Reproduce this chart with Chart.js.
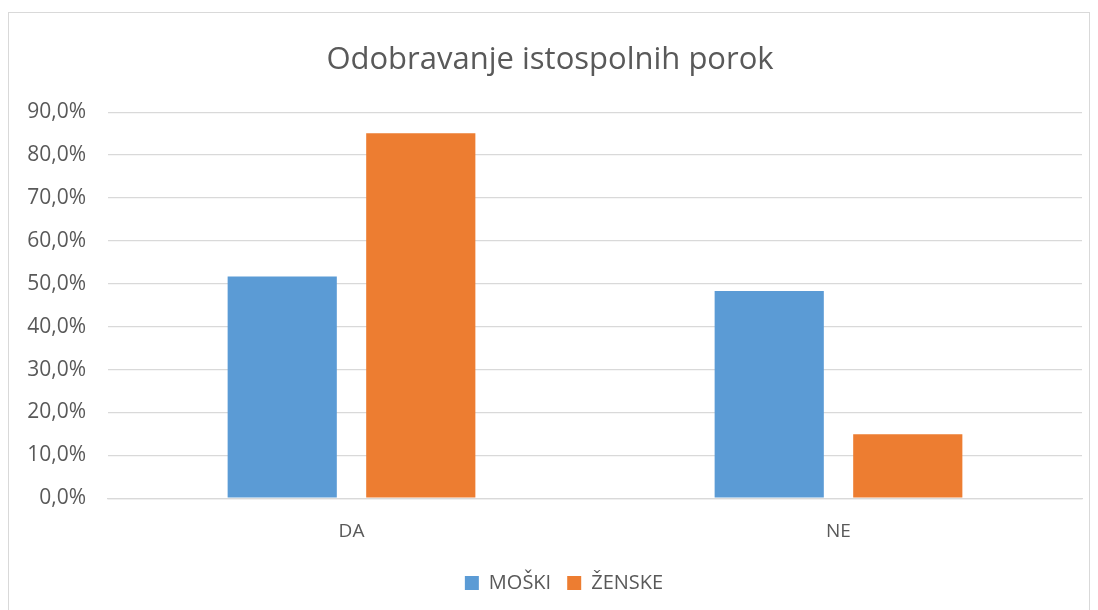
<!DOCTYPE html>
<html>
<head>
<meta charset="utf-8">
<script src="https://cdn.jsdelivr.net/npm/chart.js@4.4.0/dist/chart.umd.min.js"></script>
<style>
  html, body { margin: 0; padding: 0; background: #fff; }
  #wrap { position: absolute; left: 8px; top: 12px; width: 1082px; height: 610px; border: 1px solid #d9d9d9; box-sizing: border-box; }
  #box { position: absolute; left: 0; top: 0; width: 1098px; height: 610px; }
</style>
</head>
<body>
<div id="wrap"></div>
<div id="box"><canvas id="chart"></canvas></div>
<script>
const categories = ['DA', 'NE'];
const moskiValues = [51.7, 48.3];
const zenskeValues = [85.1, 14.9];

Chart.defaults.font.family = '"Open Sans", sans-serif';
Chart.defaults.color = '#595959';

// legenda je v originalu malo desno od sredine
const legendShift = {
    id: 'legendShift',
    afterLayout(chart) {
        if (chart.legend) {
            chart.legend.left += 14;
            chart.legend.right += 14;
        }
    }
};

const ctx = document.getElementById('chart').getContext('2d');
new Chart(ctx, {
    type: 'bar',
    data: {
        labels: categories,
        datasets: [{
            label: 'MOŠKI',
            data: moskiValues,
            backgroundColor: '#5B9BD5',
            categoryPercentage: 0.569,
            barPercentage: 0.788
        }, {
            label: 'ŽENSKE',
            data: zenskeValues,
            backgroundColor: '#ED7D31',
            categoryPercentage: 0.569,
            barPercentage: 0.788
        }]
    },
    options: {
        responsive: true,
        maintainAspectRatio: false,
        animation: false,
        layout: {
            padding: { left: 18, right: 16, top: 20, bottom: 7 }
        },
        plugins: {
            title: {
                display: true,
                text: 'Odobravanje istospolnih porok',
                color: '#595959',
                font: { size: 31, weight: 'normal' },
                padding: { top: 22, bottom: 33 }
            },
            legend: {
                position: 'bottom',
                labels: {
                    boxWidth: 14,
                    boxHeight: 14,
                    padding: 16,
                    font: { size: 20 },
                    color: '#595959'
                }
            },
            tooltip: { enabled: false }
        },
        scales: {
            y: {
                min: 0,
                max: 90,
                ticks: {
                    stepSize: 10,
                    padding: 22,
                    font: { size: 21 },
                    color: '#595959',
                    callback: function(value) {
                        return value.toFixed(1).replace('.', ',') + '%';
                    }
                },
                grid: {
                    color: '#d9d9d9',
                    lineWidth: 1.3,
                    drawTicks: false
                },
                border: { display: false },
                afterFit: function(scale) { scale.width = 90; }
            },
            x: {
                ticks: {
                    font: { size: 19 },
                    color: '#595959',
                    padding: 14
                },
                grid: { display: false },
                border: { color: '#d9d9d9', width: 1.3 }
            }
        }
    },
    plugins: [legendShift]
});
</script>
</body>
</html>
